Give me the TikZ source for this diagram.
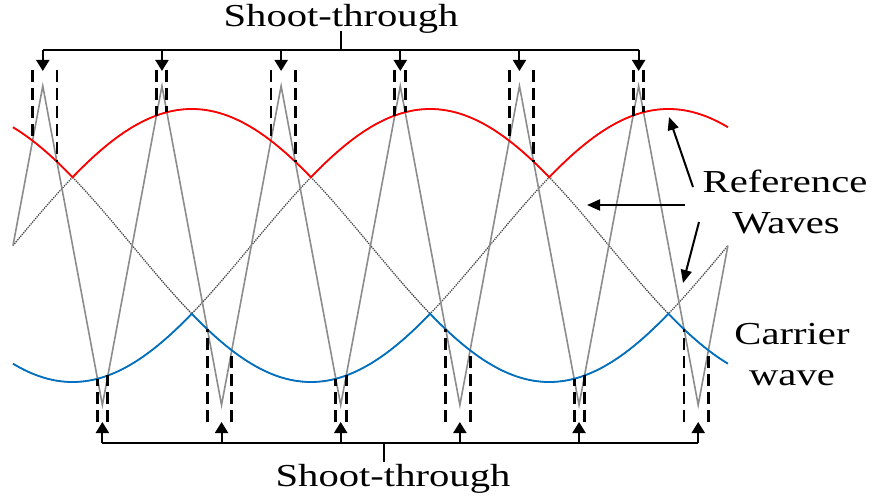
\documentclass[tikz,border=0pt]{standalone}
\usepackage{fontspec}
\setmainfont{Liberation Serif}
\newfontfamily\labfont[FakeStretch=1.27]{Liberation Serif}
\usetikzlibrary{arrows.meta,intersections}
\definecolor{refred}{RGB}{255,0,0}
\definecolor{refblue}{RGB}{0,112,192}
\definecolor{carriergray}{RGB}{140,140,140}
\begin{document}
\begin{tikzpicture}[x=1pt,y=-1pt,
  carrierline/.style={draw=carriergray,line width=1.6pt,line join=miter},
  envred/.style={draw=refred,line width=1.8pt},
  envblue/.style={draw=refblue,line width=1.8pt},
  phase/.style={draw=black!72,line width=1.3pt,densely dotted},
  stline/.style={draw=black,line width=2.8pt,dash pattern=on 12pt off 6pt},
  bracket/.style={draw=black,line width=2pt},
  tip/.style={-{Triangle[length=11pt,width=13pt]}},
  pointer/.style={draw=black,line width=2pt,-{Triangle[length=13pt,width=11pt]}},
  lab/.style={font=\fontsize{32}{32}\labfont, inner sep=0pt, anchor=base}
]
\useasboundingbox (0,0) rectangle (873,500);
\def\M{245.5}\def\A{136.5}\def\K{1.986111}
% three reference phases (dotted)
\foreach \ph in {0,120,-120}
  \draw[phase] plot[domain=0:360,samples=361,variable=\t] ({13+\K*\t},{\M-\A*sin(\t+\ph)});
% carrier
\draw[carrierline,name path=carrier] (13,245.5) -- (42.79,86) -- (102.38,405) -- (161.96,86) -- (221.54,405)
  -- (281.13,86) -- (340.71,405) -- (400.29,86) -- (459.88,405) -- (519.46,86) -- (579.04,405)
  -- (638.63,86) -- (698.21,405) -- (727.9,245.5);
% envelopes
\draw[envred,name path=redenv] plot[domain=0:360,samples=361,variable=\t]
  ({13+\K*\t},{\M-\A*max(sin(\t),sin(\t+120),sin(\t-120))});
\draw[envblue,name path=blueenv] plot[domain=0:360,samples=361,variable=\t]
  ({13+\K*\t},{\M-\A*min(sin(\t),sin(\t+120),sin(\t-120))});
% shoot-through windows
\coordinate (topline) at (0,70);
\coordinate (botline) at (0,422);
\path[name intersections={of=redenv and carrier,name=ri}];
\path[name intersections={of=blueenv and carrier,name=bi}];
\foreach \i in {1,...,12} {
  \draw[stline] (ri-\i |- topline) -- (ri-\i);
  \draw[stline] (bi-\i |- botline) -- (bi-\i);
}
% top bracket
\coordinate (tl) at (42.79,50);
\coordinate (tr) at (638.63,50);
\draw[bracket] (tl) -- (tr);
\foreach \p [count=\k] in {42.79,161.96,281.13,400.29,519.46,638.63} {
  \coordinate (tb\k) at (\p,50);
  \coordinate (ta\k) at (\p,71);
  \draw[bracket,tip] (tb\k) -- (ta\k);
}
\node[lab] (toplab) at (341,27) {Shoot-through};
\coordinate (ttk1) at (341,31);
\coordinate (ttk2) at (341,50);
\draw[bracket] (ttk1) -- (ttk2);
% bottom bracket
\coordinate (bl) at (102.38,443);
\coordinate (br) at (698.21,443);
\draw[bracket] (bl) -- (br);
\foreach \p [count=\k] in {102.38,221.54,340.71,459.88,579.04,698.21} {
  \coordinate (bb\k) at (\p,443);
  \coordinate (ba\k) at (\p,422);
  \draw[bracket,tip] (bb\k) -- (ba\k);
}
\node[lab] (botlab) at (393,486) {Shoot-through};
\coordinate (btk1) at (384,443);
\coordinate (btk2) at (384,462);
\draw[bracket] (btk1) -- (btk2);
% labels
\node[lab] (ref1) at (785,193) {Reference};
\node[lab] (ref2) at (786,233) {Waves};
\node[lab] (car1) at (792,344) {Carrier};
\node[lab] (car2) at (792,385) {wave};
\coordinate (p1s) at (693,187);
\coordinate (p1e) at (669,117);
\coordinate (p2s) at (685,205);
\coordinate (p2e) at (587,205);
\coordinate (p3s) at (699,222);
\coordinate (p3e) at (683,283);
\draw[pointer] (p1s) -- (p1e);
\draw[pointer] (p2s) -- (p2e);
\draw[pointer] (p3s) -- (p3e);
\end{tikzpicture}
\end{document}
